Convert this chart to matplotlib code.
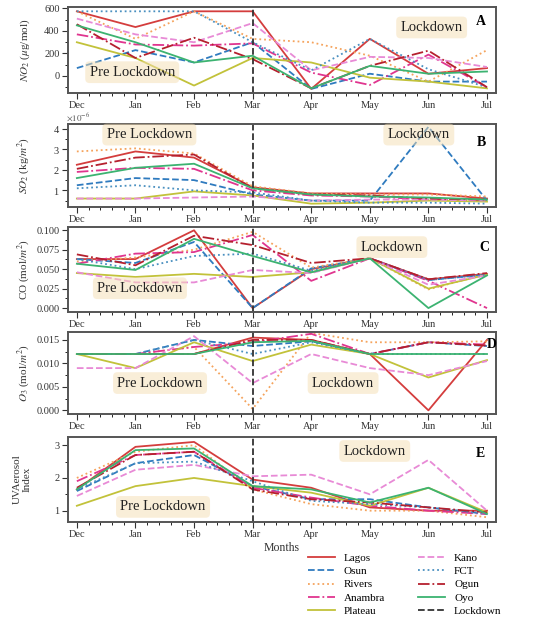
import matplotlib
matplotlib.use("Agg")
import matplotlib.pyplot as plt
from matplotlib.ticker import AutoMinorLocator, ScalarFormatter, FormatStrFormatter

plt.rcParams['font.family'] = ['Liberation Serif', 'DejaVu Serif']
plt.rcParams['mathtext.fontset'] = 'stix'

months = ["Dec", "Jan", "Feb", "Mar", "Apr", "May", "Jun", "Jul"]
states = ["Lagos", "Osun", "Rivers", "Anambra", "Plateau",
          "Kano", "FCT", "Ogun", "Oyo"]

# NO2 (ug/mol)
no2 = {
    "Lagos":   [575, 435, 575, 575, -115, 330, 20, 70],
    "Osun":    [70, 230, 120, 300, -115, 20, -50, -50],
    "Rivers":  [575, 330, 575, 330, 300, 180, -50, 230],
    "Anambra": [370, 280, 270, 290, 30, -80, 190, -100],
    "Plateau": [300, 160, -85, 160, 120, -15, -50, -110],
    "Kano":    [510, 370, 300, 470, 50, 170, 160, 80],
    "FCT":     [575, 575, 575, 300, 50, 330, 60, -100],
    "Ogun":    [460, 160, 340, 150, -110, 90, 225, -100],
    "Oyo":     [450, 300, 120, 180, -110, 90, 20, 40],
}

# SO2 (x1e-6 kg/m2)
so2 = {
    "Lagos":   [2.25, 2.9, 2.6, 1.15, 0.85, 0.85, 0.85, 0.6],
    "Osun":    [1.25, 1.6, 1.5, 0.8, 0.5, 0.5, 4.1, 0.5],
    "Rivers":  [2.9, 3.05, 2.8, 1.2, 0.85, 0.8, 0.8, 0.7],
    "Anambra": [1.9, 2.1, 2.05, 1.0, 0.75, 0.7, 0.55, 0.5],
    "Plateau": [0.6, 0.6, 0.95, 0.75, 0.35, 0.4, 0.5, 0.45],
    "Kano":    [0.6, 0.6, 0.65, 0.7, 0.5, 0.55, 0.55, 0.5],
    "FCT":     [1.1, 1.25, 1.0, 0.9, 0.5, 0.4, 0.4, 0.35],
    "Ogun":    [2.05, 2.6, 2.75, 1.1, 0.8, 0.75, 0.6, 0.55],
    "Oyo":     [1.6, 2.1, 2.3, 1.1, 0.8, 0.7, 0.65, 0.55],
}

# CO (mol/m2)
co = {
    "Lagos":   [0.063, 0.063, 0.100, 0.000, 0.050, 0.064, 0.037, 0.044],
    "Osun":    [0.063, 0.058, 0.085, 0.000, 0.051, 0.064, 0.036, 0.043],
    "Rivers":  [0.060, 0.065, 0.075, 0.098, 0.052, 0.064, 0.024, 0.044],
    "Anambra": [0.057, 0.070, 0.072, 0.094, 0.035, 0.064, 0.035, 0.000],
    "Plateau": [0.045, 0.040, 0.044, 0.040, 0.046, 0.064, 0.025, 0.043],
    "Kano":    [0.046, 0.033, 0.033, 0.049, 0.045, 0.064, 0.030, 0.042],
    "FCT":     [0.063, 0.050, 0.067, 0.070, 0.048, 0.064, 0.036, 0.043],
    "Ogun":    [0.069, 0.055, 0.093, 0.081, 0.058, 0.064, 0.037, 0.045],
    "Oyo":     [0.057, 0.049, 0.089, 0.067, 0.046, 0.064, 0.000, 0.042],
}

# O3 (mol/m2)
o3 = {
    "Lagos":   [0.012, 0.012, 0.012, 0.0155, 0.015, 0.012, 0.000, 0.015],
    "Osun":    [0.012, 0.012, 0.015, 0.0137, 0.0147, 0.012, 0.0145, 0.0137],
    "Rivers":  [0.012, 0.012, 0.0135, 0.0003, 0.0165, 0.0145, 0.0145, 0.0147],
    "Anambra": [0.012, 0.012, 0.0135, 0.0145, 0.0163, 0.012, 0.0145, 0.014],
    "Plateau": [0.012, 0.009, 0.0145, 0.0105, 0.014, 0.012, 0.007, 0.0107],
    "Kano":    [0.009, 0.009, 0.0158, 0.0058, 0.012, 0.009, 0.0075, 0.0105],
    "FCT":     [0.012, 0.012, 0.015, 0.012, 0.0145, 0.012, 0.012, 0.012],
    "Ogun":    [0.012, 0.012, 0.012, 0.015, 0.015, 0.012, 0.0145, 0.0138],
    "Oyo":     [0.012, 0.012, 0.012, 0.0145, 0.0148, 0.012, 0.012, 0.012],
}

# UV Aerosol Index
uvai = {
    "Lagos":   [1.65, 2.95, 3.1, 1.95, 1.7, 1.1, 1.0, 1.0],
    "Osun":    [1.6, 2.45, 2.7, 1.75, 1.35, 1.35, 1.1, 0.9],
    "Rivers":  [2.0, 2.8, 3.0, 1.65, 1.2, 1.0, 1.0, 0.8],
    "Anambra": [1.9, 2.7, 2.8, 1.7, 1.4, 1.15, 1.0, 0.9],
    "Plateau": [1.15, 1.75, 2.0, 1.75, 1.55, 1.15, 1.7, 0.95],
    "Kano":    [1.45, 2.25, 2.4, 2.05, 2.1, 1.5, 2.55, 1.0],
    "FCT":     [1.65, 2.45, 2.5, 1.9, 1.3, 1.2, 1.1, 0.9],
    "Ogun":    [1.7, 2.7, 2.8, 1.65, 1.35, 1.25, 1.1, 0.95],
    "Oyo":     [1.65, 2.85, 2.9, 1.75, 1.65, 1.25, 1.7, 0.9],
}

colors = {
    "Lagos": "#d43d3d", "Osun": "#2f7bbf", "Rivers": "#f5a35c",
    "Anambra": "#e0358f", "Plateau": "#c2c23a", "Kano": "#e88ad6",
    "FCT": "#4a90c0", "Ogun": "#b5202e", "Oyo": "#3cb371",
}
styles = {
    "Lagos": "-", "Osun": "--", "Rivers": ":", "Anambra": "-.",
    "Plateau": "-", "Kano": "--", "FCT": ":", "Ogun": "-.", "Oyo": "-",
}

fig = plt.figure(figsize=(5.36, 6.19), dpi=100)

left, width = 0.127, 0.798
panels = [
    # data, bottom, height, ylabel, letter, yticks, ylim, scale, boxes, letter pos
    (no2, 0.850, 0.139, r"$NO_2$ ($\mu$g/mol)", "A", [0, 200, 400, 600], (-150, 615), 1,
     [("Pre Lockdown", 0.15, 0.24), ("Lockdown", 0.85, 0.76)], (0.965, 0.83)),
    (so2, 0.666, 0.134, r"$SO_2$ (kg/$m^2$)", "B", [1e-6, 2e-6, 3e-6, 4e-6], (0.2e-6, 4.25e-6), 1e-6,
     [("Pre Lockdown", 0.19, 0.87), ("Lockdown", 0.82, 0.87)], (0.967, 0.77)),
    (co, 0.496, 0.137, r"CO (mol/$m^2$)", "C", [0, 0.025, 0.05, 0.075, 0.1], (-0.005, 0.104), 1,
     [("Pre Lockdown", 0.168, 0.28), ("Lockdown", 0.757, 0.765)], (0.974, 0.765)),
    (o3, 0.331, 0.132, r"$O_3$ (mol/$m^2$)", "D", [0, 0.005, 0.01, 0.015], (-0.0008, 0.0166), 1,
     [("Pre Lockdown", 0.215, 0.38), ("Lockdown", 0.643, 0.38)], (0.99, 0.85)),
    (uvai, 0.157, 0.137, "UVAerosol\nIndex", "E", [1, 2, 3], (0.66, 3.25), 1,
     [("Pre Lockdown", 0.222, 0.176), ("Lockdown", 0.717, 0.835)], (0.963, 0.81)),
]

x = list(range(len(months)))
axes = []
for data, bottom, height, ylabel, letter, yticks, ylim, scale, boxes, lpos in panels:
    ax = fig.add_axes([left, bottom, width, height])
    axes.append(ax)
    for s in states:
        vals = [v * scale for v in data[s]]
        ax.plot(x, vals, color=colors[s], linestyle=styles[s], linewidth=1.3, label=s)
    ax.axvline(3, color="#333333", linestyle="--", linewidth=1.3, label="Lockdown")
    ax.set_xlim(-0.15, 7.15)
    ax.set_ylim(*ylim)
    ax.set_yticks(yticks)
    ax.set_xticks(x)
    ax.set_xticklabels(months)
    ax.xaxis.set_minor_locator(AutoMinorLocator(5))
    ax.yaxis.set_minor_locator(AutoMinorLocator(2))
    ax.tick_params(axis="both", which="major", direction="out", length=4,
                   width=0.8, labelsize=7.5, colors="#333333", pad=2)
    ax.tick_params(axis="both", which="minor", direction="out", length=2, width=0.6)
    for sp in ax.spines.values():
        sp.set_color("#555555")
        sp.set_linewidth(1.4)
    ax.set_ylabel(ylabel, fontsize=8, color="#333333")
    ax.yaxis.set_label_coords(-0.085, 0.5)
    if scale != 1:
        fmt = ScalarFormatter(useMathText=True)
        fmt.set_powerlimits((0, 0))
        ax.yaxis.set_major_formatter(fmt)
        ax.yaxis.get_offset_text().set_visible(False)
        ax.text(-0.005, 1.01, r"$\times10^{-6}$", transform=ax.transAxes,
                ha="left", va="bottom", fontsize=6.5, color="#555555")
    elif letter in ("C", "D"):
        ax.yaxis.set_major_formatter(FormatStrFormatter("%.3f"))
    for txt, bx, by in boxes:
        ax.text(bx, by, txt, transform=ax.transAxes, ha="center", va="center",
                fontsize=10.5, color="#222222",
                bbox=dict(boxstyle="round,pad=0.3", facecolor="wheat",
                          edgecolor="none", alpha=0.5))
    ax.text(lpos[0], lpos[1], letter, transform=ax.transAxes, ha="center",
            va="center", fontsize=10, fontweight="bold")

axes[-1].set_xlabel("Months", fontsize=8.5, color="#333333", labelpad=2)

handles, labels = axes[-1].get_legend_handles_labels()
fig.legend(handles, labels, loc="upper left", bbox_to_anchor=(0.567, 0.113),
           ncol=2, frameon=False, fontsize=8, handlelength=2.4,
           labelspacing=0.3, columnspacing=3.0, borderaxespad=0)

fig.savefig("out.png", dpi=100)
